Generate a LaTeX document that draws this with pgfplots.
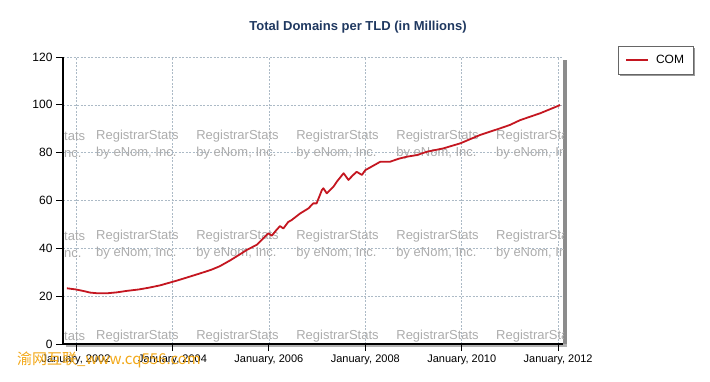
\documentclass[border=0pt]{standalone}
\usepackage{fontspec}
\setmainfont{Liberation Sans}
\newfontfamily\cjk{Noto Sans CJK SC}
\usepackage{pgfplots}
\pgfplotsset{compat=1.18}
\pgfdeclarelayer{bg}
\pgfsetlayers{bg,main}
\definecolor{comred}{RGB}{196,22,32}
\definecolor{gridc}{RGB}{172,186,198}
\definecolor{titlec}{RGB}{31,56,96}
\definecolor{wmc}{RGB}{172,172,172}
\definecolor{wmorange}{RGB}{242,168,24}
\newcommand{\wm}[2]{\node[anchor=west, align=left, text=wmc, font=\fontsize{13}{17}\selectfont, inner sep=0pt] at (axis cs:#1,#2) {RegistrarStats\\by eNom, Inc.};}
\newcommand{\wml}[1]{\node[anchor=west, align=left, text=wmc, font=\fontsize{13}{17}\selectfont, inner sep=0pt] at (axis cs:2001.75,#1) {tats\\nc.};}
\begin{document}
\begin{tikzpicture}
\path[use as bounding box] (0pt,0pt) rectangle (710pt,381pt);
\node[font=\bfseries\fontsize{13}{15}\selectfont, text=titlec] at (358pt,354pt) {Total Domains per TLD (in Millions)};
\fill[black!45] (563pt,34pt) rectangle (567pt,321pt);
\fill[black!30] (66pt,34pt) rectangle (567pt,37pt);
\begin{axis}[
  at={(63pt,37pt)}, anchor=south west,
  width=500pt, height=287pt, scale only axis,
  xmin=2001.73, xmax=2012.10, ymin=0, ymax=120,
  axis x line*=bottom, axis y line*=left,
  axis line style={-, black, line width=1.2pt},
  tick align=outside, major tick length=7pt,
  tick style={black, line width=0.9pt},
  xtick={2002,2004,2006,2008,2010,2012},
  xticklabels={{January, 2002},{January, 2004},{January, 2006},{January, 2008},{January, 2010},{January, 2012}},
  ytick={0,20,40,60,80,100,120},
  /pgf/number format/assume math mode=true,
  x tick label style={font=\fontsize{11}{13}\selectfont},
  y tick label style={font=\fontsize{12}{14}\selectfont},
  grid=major, grid style={dash pattern=on 2pt off 1.5pt, gridc, line width=0.6pt},
  legend style={at={(axis description cs:1.11,1.038)}, anchor=north west,
    draw=black!60, fill=white, font=\fontsize{12}{14}\selectfont,
    inner xsep=7pt, inner ysep=7pt, name=leg,
    /tikz/every odd column/.append style={column sep=5pt}},
  legend cell align=left,
  legend image code/.code={\draw[#1] (0pt,0pt) -- (22pt,0pt);},
]
\wml{83.2}\wm{2002.415}{83.2}\wm{2004.49}{83.2}\wm{2006.564}{83.2}\wm{2008.64}{83.2}\wm{2010.71}{83.2}
\wml{41.4}\wm{2002.415}{41.4}\wm{2004.49}{41.4}\wm{2006.564}{41.4}\wm{2008.64}{41.4}\wm{2010.71}{41.4}
\wml{-0.4}\wm{2002.415}{-0.4}\wm{2004.49}{-0.4}\wm{2006.564}{-0.4}\wm{2008.64}{-0.4}\wm{2010.71}{-0.4}
\addplot[comred, line width=1.8pt, line join=round] table {
x y
2001.81 23.3
2002.00 22.8
2002.19 22.0
2002.29 21.5
2002.45 21.2
2002.64 21.2
2002.85 21.6
2003.05 22.2
2003.30 22.8
2003.50 23.5
2003.74 24.5
2004.09 26.5
2004.30 27.8
2004.57 29.5
2004.80 31.0
2004.98 32.5
2005.20 35.0
2005.40 37.5
2005.54 39.3
2005.75 41.5
2005.90 44.5
2005.99 46.3
2006.06 45.3
2006.15 47.5
2006.23 49.3
2006.30 48.3
2006.40 51.0
2006.47 51.8
2006.65 54.6
2006.82 56.7
2006.92 58.8
2006.99 58.8
2007.10 64.4
2007.13 65.1
2007.20 63.0
2007.34 65.8
2007.41 67.9
2007.55 71.4
2007.65 68.6
2007.74 70.5
2007.82 72.0
2007.93 70.7
2008.00 72.7
2008.31 76.2
2008.51 76.2
2008.70 77.5
2008.86 78.3
2009.07 79.0
2009.28 80.4
2009.62 81.8
2009.97 83.9
2010.38 87.4
2010.80 90.2
2011.00 91.6
2011.21 93.6
2011.63 96.5
2012.04 99.9
};
\addlegendentry{COM}
\end{axis}
\begin{pgfonlayer}{bg}
\fill[black!40] ([shift={(2pt,-2pt)}]leg.south west) rectangle ([shift={(2pt,-2pt)}]leg.north east);
\end{pgfonlayer}
\node[anchor=west, font=\cjk\fontsize{15}{17}\selectfont, text=wmorange, inner sep=0pt] at (17pt,21pt) {渝网互联\_www.cq556.com};
\end{tikzpicture}
\end{document}
